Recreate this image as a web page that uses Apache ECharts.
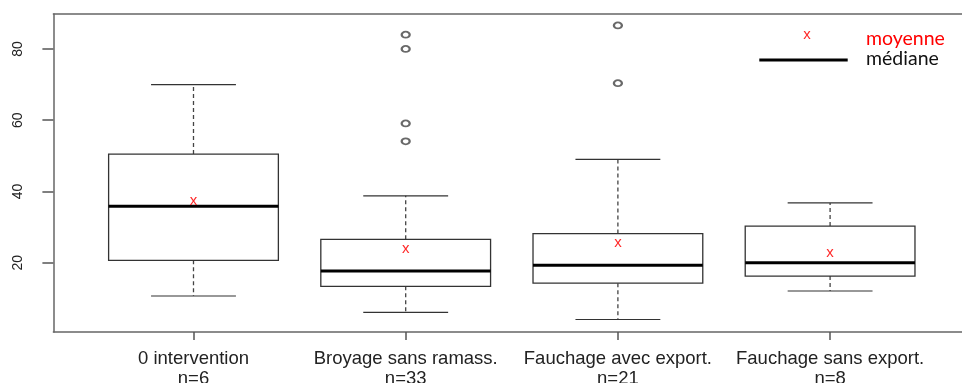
<!DOCTYPE html>
<html>
<head>
<meta charset="utf-8">
<script src="https://cdn.jsdelivr.net/npm/echarts@6/dist/echarts.min.js"></script>
<style>
  html, body { margin: 0; padding: 0; background: #fff; }
  #chart { width: 962px; height: 383px; }
</style>
</head>
<body>
<div id="chart"></div>
<script>
// ---- data ----
const categories = ['0 intervention', 'Broyage sans ramass.', 'Fauchage avec export.', 'Fauchage sans export.'];
const counts = [6, 33, 21, 8];
const whiskerLow = [10.7, 6.1, 4.1, 12.1];
const q1 = [20.7, 13.4, 14.3, 16.3];
const median = [35.9, 17.7, 19.3, 20.0];
const q3 = [50.5, 26.6, 28.2, 30.3];
const whiskerHigh = [70.0, 38.8, 49.0, 36.8];
const means = [37.2, 23.9, 25.6, 22.6];
const outliersBroyage = [84.0, 80.0, 59.1, 54.1];
const outliersFauchageAvec = [86.6, 70.4];
const yTicks = [20, 40, 60, 80];
const legendMean = 'moyenne';
const legendMedian = 'médiane';

// ---- build series data ----
const boxData = categories.map((c, i) => [i + 1, whiskerLow[i], q1[i], median[i], q3[i], whiskerHigh[i], means[i]]);
const outlierData = []
  .concat(outliersBroyage.map(v => [2, v]))
  .concat(outliersFauchageAvec.map(v => [3, v]));
const xPositions = categories.map((c, i) => i + 1);

const chart = echarts.init(document.getElementById('chart'), null, { renderer: 'canvas' });

function renderBox(params, api) {
  const x = api.value(0);
  const lo = api.value(1), a = api.value(2), m = api.value(3), b = api.value(4), hi = api.value(5), mean = api.value(6);
  const boxW = api.size([0.8, 0])[0];
  const capW = boxW / 2;
  const cx = api.coord([x, m])[0];
  const yLo = api.coord([x, lo])[1];
  const yA = api.coord([x, a])[1];
  const yM = api.coord([x, m])[1];
  const yB = api.coord([x, b])[1];
  const yHi = api.coord([x, hi])[1];
  const yMean = api.coord([x, mean])[1];
  const dark = '#333';
  return {
    type: 'group',
    children: [
      { type: 'line', shape: { x1: cx, y1: yB, x2: cx, y2: yHi }, style: { stroke: '#444', lineWidth: 1.3, lineDash: [4, 3] } },
      { type: 'line', shape: { x1: cx, y1: yA, x2: cx, y2: yLo }, style: { stroke: '#444', lineWidth: 1.3, lineDash: [4, 3] } },
      { type: 'line', shape: { x1: cx - capW / 2, y1: yHi, x2: cx + capW / 2, y2: yHi }, style: { stroke: dark, lineWidth: 1.2 } },
      { type: 'line', shape: { x1: cx - capW / 2, y1: yLo, x2: cx + capW / 2, y2: yLo }, style: { stroke: dark, lineWidth: 1.2 } },
      { type: 'rect', shape: { x: cx - boxW / 2, y: yB, width: boxW, height: yA - yB }, style: { fill: '#fff', stroke: dark, lineWidth: 1.3 } },
      { type: 'line', shape: { x1: cx - boxW / 2, y1: yM, x2: cx + boxW / 2, y2: yM }, style: { stroke: '#000', lineWidth: 3 } },
      { type: 'text', x: cx, y: yMean - 0.5, style: { text: 'x', fill: '#ff2a2a', font: '15px "Liberation Sans", Arial, sans-serif', align: 'center', verticalAlign: 'middle' } }
    ]
  };
}

const frameLine = { show: true, lineStyle: { color: '#666', width: 1.5 } };

const option = {
  animation: false,
  backgroundColor: '#fff',
  grid: { left: 53.4, top: 14, bottom: 51, right: 0, containLabel: false, outerBoundsMode: 'none' },
  xAxis: [
    {
      type: 'value',
      min: 0.3398, max: 4.6216,
      axisLine: frameLine,
      splitLine: { show: false },
      axisTick: { show: true, customValues: xPositions, length: 8, lineStyle: { color: '#555', width: 1.5 } },
      axisLabel: {
        show: true,
        customValues: xPositions,
        margin: 16.5,
        fontFamily: '"Liberation Sans", Arial, sans-serif',
        fontSize: 18.5,
        lineHeight: 20,
        color: '#222',
        formatter: v => categories[Math.round(v) - 1] + '\nn=' + counts[Math.round(v) - 1]
      }
    },
    {
      type: 'value',
      position: 'top',
      min: 0.3398, max: 4.6216,
      axisLine: frameLine,
      axisTick: { show: false },
      axisLabel: { show: false },
      splitLine: { show: false }
    }
  ],
  yAxis: {
    type: 'value',
    min: 0.6, max: 89.8,
    axisLine: frameLine,
    splitLine: { show: false },
    axisTick: { show: true, customValues: yTicks, length: 11, lineStyle: { color: '#555', width: 1.5 } },
    axisLabel: {
      show: true,
      customValues: yTicks,
      rotate: 90,
      margin: 28,
      fontFamily: '"Liberation Sans", Arial, sans-serif',
      fontSize: 14,
      color: '#222'
    }
  },
  graphic: [
    { type: 'text', x: 807, y: 34.5, style: { text: 'x', fill: '#ff2a2a', font: '15px "Liberation Sans", Arial, sans-serif', align: 'center', verticalAlign: 'middle' } },
    { type: 'line', shape: { x1: 759.3, y1: 60, x2: 847.7, y2: 60 }, style: { stroke: '#000', lineWidth: 3 } },
    { type: 'text', x: 866, y: 38.5, style: { text: legendMean, fill: '#ff0000', font: '19.5px Lato, "Open Sans", sans-serif', verticalAlign: 'middle' } },
    { type: 'text', x: 866, y: 59, style: { text: legendMedian, fill: '#111', font: '19.5px Lato, "Open Sans", sans-serif', verticalAlign: 'middle' } }
  ],
  series: [
    {
      type: 'custom',
      name: 'box',
      renderItem: renderBox,
      data: boxData,
      encode: { x: 0, y: [1, 2, 3, 4, 5] },
      z: 2
    },
    {
      type: 'scatter',
      name: 'outliers',
      data: outlierData,
      symbol: 'emptyCircle',
      symbolSize: [8, 6],
      itemStyle: { color: '#444', borderWidth: 0.9 },
      z: 3
    }
  ]
};
chart.setOption(option);
</script>
</body>
</html>
